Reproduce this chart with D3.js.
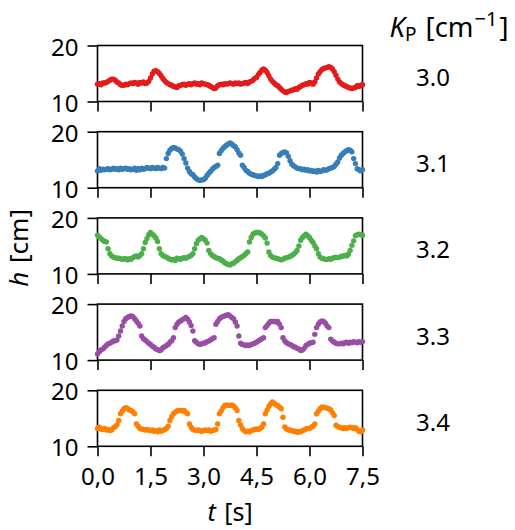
<!DOCTYPE html>
<html>
<head>
<meta charset="utf-8">
<script src="https://cdn.jsdelivr.net/npm/d3@7"></script>
<style>
  html, body { margin: 0; padding: 0; background: #fff; }
  svg { display: block; }
  text { font-family: "Noto Sans", "Open Sans", sans-serif; fill: #000; }
</style>
</head>
<body>
<svg id="chart" width="515" height="530"></svg>
<script>
// ---------------- data ----------------
const kpLabels = ["3.0", "3.1", "3.2", "3.3", "3.4"];
const seriesColors = ["#e41a1c", "#377eb8", "#4daf4a", "#984ea3", "#ff7f00"];
const xTickValues = [0, 1.5, 3.0, 4.5, 6.0, 7.5];
const xTickLabels = ["0,0", "1,5", "3,0", "4,5", "6,0", "7,5"];
const yTickValues = [10, 20];
const yTickLabels = ["10", "20"];
const sampleStep = 0.05; // s, sampling interval of h(t)

const h30 = [
  13.1,13.2,13.0,13.3,13.3,13.4,13.6,13.8,14.0,14.0,
  13.8,13.5,13.3,13.0,12.9,12.9,13.1,13.0,13.2,13.3,
  13.2,13.4,13.3,13.1,13.4,13.3,13.5,13.2,13.3,13.6,
  14.2,14.9,15.4,15.5,15.3,15.0,14.6,14.1,13.7,13.4,
  13.2,13.0,12.9,12.7,12.6,12.5,12.8,12.9,13.0,13.1,
  12.9,13.1,13.2,13.0,13.2,13.3,13.1,13.2,13.0,13.3,
  13.2,13.1,13.0,12.9,12.7,12.5,12.3,12.4,12.8,13.0,
  13.1,13.0,13.2,13.1,13.2,13.3,13.2,13.1,13.3,13.2,
  13.3,13.1,13.2,13.3,13.4,13.2,13.5,13.6,13.8,14.1,
  14.3,14.8,15.2,15.6,15.8,15.6,15.2,14.6,14.0,13.6,
  13.3,13.0,12.8,12.5,12.2,11.9,11.7,11.6,11.8,11.9,
  12.0,12.1,12.3,12.2,12.5,12.7,12.9,13.0,13.2,13.1,
  13.4,13.3,13.1,13.5,14.2,14.9,15.3,15.7,15.9,16.0,
  16.1,16.2,16.1,15.8,15.3,14.7,14.0,13.5,13.2,13.0,
  12.8,12.7,12.5,12.4,12.3,12.4,12.5,12.8,12.7,12.9,
  13.0
];
const h31 = [
  13.0,13.4,13.1,13.3,13.2,13.3,13.4,13.2,13.3,13.5,
  13.3,13.4,13.2,13.5,13.3,13.4,13.5,13.3,13.4,13.2,
  13.3,13.5,13.1,13.4,13.2,13.5,13.3,13.4,13.6,13.5,
  13.4,13.6,13.5,13.4,13.6,13.5,13.4,13.6,13.5,15.2,
  16.1,16.7,17.0,17.2,17.1,16.9,16.8,16.5,16.0,15.2,
  14.4,13.5,12.9,12.5,12.3,11.9,11.6,11.4,11.3,11.4,
  11.4,11.7,12.2,12.6,12.9,13.3,13.6,13.8,14.0,16.1,
  16.6,17.0,17.3,17.6,17.8,18.0,17.8,17.5,17.3,16.8,
  16.2,15.8,14.0,13.6,13.1,12.9,12.6,12.4,12.3,12.2,
  12.1,12.0,12.1,12.0,12.2,12.3,12.5,12.6,12.8,13.0,
  13.3,13.6,14.3,15.8,16.1,16.3,16.4,16.2,15.6,14.8,
  14.2,13.9,13.7,13.5,13.4,13.4,13.2,13.3,13.1,13.2,
  13.0,13.1,12.9,13.0,12.8,13.1,12.9,13.0,13.2,13.1,
  13.2,13.4,13.5,13.6,13.8,14.2,14.6,15.3,15.8,16.1,
  16.4,16.6,16.8,16.7,16.4,15.2,14.3,13.4,13.2,13.0,
  13.2
];
const h32 = [
  16.9,16.6,16.3,16.0,15.8,15.7,14.5,13.6,13.2,13.0,
  12.9,12.8,12.8,12.7,12.6,12.7,12.7,12.5,12.7,12.6,
  12.9,13.1,13.2,13.0,13.3,13.6,14.5,15.6,16.3,17.0,
  17.4,17.1,16.8,16.4,15.8,14.5,13.6,13.3,13.1,13.0,
  12.8,12.6,12.5,12.6,12.4,12.8,12.7,12.6,12.8,12.9,
  12.8,13.0,13.1,13.3,13.6,14.5,15.4,16.0,16.3,16.5,
  16.3,16.0,15.5,14.2,13.6,13.3,13.1,12.9,12.8,12.7,
  12.5,12.3,12.0,11.8,11.7,11.6,11.8,11.9,12.2,12.4,
  12.7,12.9,13.1,13.3,13.6,13.9,15.7,16.5,17.1,17.3,
  17.4,17.4,17.3,17.1,16.8,16.4,15.5,13.9,13.3,13.0,
  12.9,12.8,12.7,12.6,12.5,12.6,12.8,12.9,13.0,13.1,
  13.3,13.5,13.8,14.2,15.0,16.0,16.5,16.8,17.1,16.8,
  16.5,16.0,15.6,15.0,14.5,13.6,13.0,12.8,12.7,12.6,
  12.6,12.7,12.6,12.8,12.9,13.0,12.9,13.0,13.1,13.2,
  13.3,13.2,13.5,14.2,15.1,15.9,16.8,17.0,17.1,17.0,
  16.9
];
const h33 = [
  11.1,11.5,11.8,12.0,12.3,12.6,12.9,13.0,13.2,13.4,
  13.45,13.6,14.3,15.2,16.1,16.9,17.4,17.6,17.8,17.9,
  17.8,17.4,17.0,16.6,16.1,14.3,13.8,13.6,13.3,13.0,
  12.8,12.5,12.3,12.0,11.9,11.7,11.8,12.2,12.4,12.6,
  12.8,13.2,13.45,14.0,15.8,16.4,16.8,17.0,17.2,17.4,
  17.6,17.3,16.8,16.2,15.2,13.45,13.2,12.9,12.8,12.9,
  13.0,13.1,13.3,13.4,13.6,13.8,14.0,16.4,16.9,17.4,
  17.6,17.8,17.9,18.0,18.1,17.9,17.6,17.4,16.8,16.1,
  14.3,13.0,12.8,12.7,12.6,12.7,12.6,12.8,12.9,13.0,
  13.2,13.4,13.6,13.8,14.0,15.8,16.2,16.6,16.9,16.9,
  16.9,16.8,16.9,16.4,15.8,14.0,13.4,13.1,12.9,12.8,
  12.6,12.4,12.3,12.1,12.0,11.7,11.8,12.1,12.6,12.8,
  13.0,13.1,13.2,14.6,15.8,16.4,16.8,17.0,16.9,16.6,
  16.1,15.8,13.75,13.4,13.2,13.0,12.9,12.9,13.0,12.9,
  13.1,13.2,13.0,13.2,13.1,13.3,13.2,13.1,13.3,13.2,
  13.3
];
const h34 = [
  13.2,13.4,13.1,13.0,13.2,12.9,13.0,12.8,12.9,13.3,
  13.5,13.8,14.6,15.8,16.3,16.7,16.9,16.8,16.5,16.4,
  16.2,15.8,14.0,13.6,13.2,13.1,13.0,12.9,13.0,12.9,
  12.8,12.9,12.7,12.8,12.6,12.9,12.7,12.8,13.0,13.2,
  13.6,14.6,15.3,15.8,16.1,16.3,16.4,16.4,16.3,16.4,
  16.1,15.8,14.0,13.4,13.0,12.9,12.8,12.9,12.8,12.7,
  12.8,12.9,12.8,12.9,12.7,12.8,12.9,13.0,14.0,15.8,
  16.3,16.9,17.3,17.4,17.3,17.3,17.4,17.2,16.9,16.4,
  14.6,13.8,13.2,12.8,12.6,12.7,12.6,12.8,12.9,13.0,
  13.1,13.0,13.2,13.4,14.0,15.8,16.5,17.1,17.6,17.9,
  17.7,17.4,17.3,17.0,16.7,15.2,13.45,13.1,12.9,12.9,
  12.8,12.7,12.7,12.5,12.6,12.6,12.8,12.9,13.1,13.2,
  13.2,13.4,13.6,14.0,15.8,16.3,16.7,17.0,17.0,16.9,
  16.8,16.7,16.5,16.0,15.5,13.75,13.5,13.4,13.3,13.2,
  13.3,13.2,13.3,13.4,13.3,13.2,13.3,13.0,12.7,12.6,
  12.9
];
const seriesList = [h30, h31, h32, h33, h34];

// ---------------- layout ----------------
const svg = d3.select("#chart");
const plotLeft = 97.5, plotRight = 362.5;
const firstTop = 45.5, panelStep = 86.2, panelH = 56;

const x = d3.scaleLinear().domain([0, 7.5]).range([plotLeft, plotRight]);

const tickFont = 24;

seriesList.forEach((vals, i) => {
  const top = firstTop + i * panelStep;
  const y = d3.scaleLinear().domain([10, 20]).range([top + panelH, top]);
  const g = svg.append("g");

  // frame
  g.append("rect")
    .attr("x", plotLeft).attr("y", top)
    .attr("width", plotRight - plotLeft).attr("height", panelH)
    .attr("fill", "none").attr("stroke", "#000").attr("stroke-width", 1.6);

  // y axis
  const ya = g.append("g").attr("transform", `translate(${plotLeft},0)`)
    .call(d3.axisLeft(y).tickValues(yTickValues)
      .tickFormat((d, k) => yTickLabels[k]).tickSize(10).tickPadding(9));
  ya.select(".domain").remove();
  ya.selectAll(".tick line").attr("stroke", "#000").attr("stroke-width", 1.6);
  ya.selectAll(".tick text").style("font-size", tickFont + "px")
    .style("font-family", '"Noto Sans", sans-serif').attr("fill", "#000")
    .attr("dy", "0.4em");

  // x axis
  const xa = g.append("g").attr("transform", `translate(0,${top + panelH})`)
    .call(d3.axisBottom(x).tickValues(xTickValues)
      .tickFormat((d, k) => i === seriesList.length - 1 ? xTickLabels[k] : "")
      .tickSize(10).tickPadding(12));
  xa.select(".domain").remove();
  xa.selectAll(".tick line").attr("stroke", "#000").attr("stroke-width", 1.6);
  xa.selectAll(".tick text").style("font-size", tickFont + "px")
    .style("font-family", '"Noto Sans", sans-serif').attr("fill", "#000");

  // points
  g.append("g").selectAll("circle").data(vals).join("circle")
    .attr("cx", (d, k) => x(k * sampleStep))
    .attr("cy", d => y(d))
    .attr("r", 2.7)
    .attr("fill", seriesColors[i]);

  // K_P value label
  svg.append("text")
    .attr("x", 433).attr("y", top + panelH / 2 + 3)
    .attr("text-anchor", "middle").attr("dominant-baseline", "central")
    .style("font-size", "24px")
    .text(kpLabels[i]);
});

// header label K_P [cm^-1]
const head = svg.append("text").attr("x", 449).attr("y", 37)
  .attr("text-anchor", "middle").style("font-size", "27.5px");
head.append("tspan").style("font-style", "italic").text("K");
head.append("tspan").attr("dy", 4).style("font-size", "19px").text("P");
head.append("tspan").attr("dy", -4).attr("dx", 2).text(" [cm");
head.append("tspan").attr("dy", -11).attr("dx", 1).style("font-size", "20px").text("\u22121");
head.append("tspan").attr("dy", 11).attr("dx", 2).text("]");

// y axis label
const yl = svg.append("text")
  .attr("transform", `translate(28,${firstTop + (4 * panelStep + panelH) / 2 + 2}) rotate(-90)`)
  .attr("text-anchor", "middle").style("font-size", "26px");
yl.append("tspan").style("font-style", "italic").text("h");
yl.append("tspan").attr("dx", 2).text(" [cm]");

// x axis label
const xl = svg.append("text")
  .attr("x", (plotLeft + plotRight) / 2).attr("y", 521)
  .attr("text-anchor", "middle").style("font-size", "25px");
xl.append("tspan").style("font-style", "italic").text("t");
xl.append("tspan").attr("dx", 2).text(" [s]");
</script>
</body>
</html>
